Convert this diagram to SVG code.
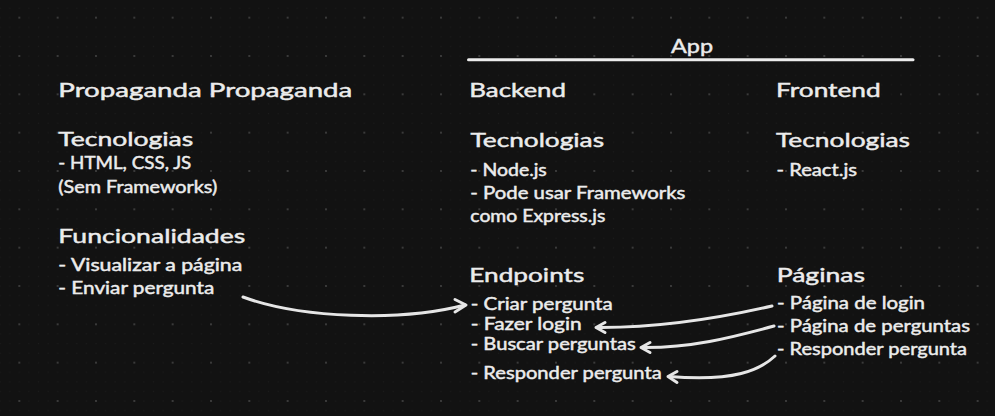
<svg xmlns="http://www.w3.org/2000/svg" width="995" height="416" viewBox="0 0 995 416">
<style>
text{font-family:Lato,"Noto Sans","Liberation Sans",sans-serif;fill:#ececec;stroke:#ececec;stroke-width:0.45px}
.h{font-size:20px}
.t{font-size:16.5px}
.c{fill:none;stroke:#e6e6e6;stroke-width:3;stroke-linecap:round;stroke-linejoin:round}
</style>
<defs>
<pattern id="grid" patternUnits="userSpaceOnUse" x="18.333" y="16.667" width="38.333" height="38.333">
<g fill="#1d1d1d">
<circle cx="10.58" cy="1" r="0.6"/><circle cx="20.17" cy="1" r="0.6"/><circle cx="29.75" cy="1" r="0.6"/>
<circle cx="1" cy="10.58" r="0.6"/><circle cx="10.58" cy="10.58" r="0.6"/><circle cx="20.17" cy="10.58" r="0.6"/><circle cx="29.75" cy="10.58" r="0.6"/>
<circle cx="1" cy="20.17" r="0.6"/><circle cx="10.58" cy="20.17" r="0.6"/><circle cx="20.17" cy="20.17" r="0.6"/><circle cx="29.75" cy="20.17" r="0.6"/>
<circle cx="1" cy="29.75" r="0.6"/><circle cx="10.58" cy="29.75" r="0.6"/><circle cx="20.17" cy="29.75" r="0.6"/><circle cx="29.75" cy="29.75" r="0.6"/>
</g>
<circle cx="1" cy="1" r="1" fill="#474747"/>
</pattern>
</defs>
<rect width="995" height="416" fill="#121212"/>
<rect width="995" height="416" fill="url(#grid)"/>

<g id="app">
<text class="h" x="671" y="52.5" textLength="42" lengthAdjust="spacingAndGlyphs">App</text>
<line x1="468.5" y1="59.7" x2="913" y2="59.7" stroke="#ececec" stroke-width="3" stroke-linecap="round"/>
</g>

<g id="propaganda">
<text class="h" x="58.3" y="97.3" textLength="294" lengthAdjust="spacingAndGlyphs">Propaganda Propaganda</text>
<text class="h" x="58.3" y="146" textLength="135" lengthAdjust="spacingAndGlyphs">Tecnologias</text>
<text class="t" x="58.3" y="169.4" textLength="133" lengthAdjust="spacingAndGlyphs">- HTML, CSS, JS</text>
<text class="t" x="58.3" y="192.6" textLength="159" lengthAdjust="spacingAndGlyphs">(Sem Frameworks)</text>
<text class="h" x="58.3" y="243.4" textLength="187" lengthAdjust="spacingAndGlyphs">Funcionalidades</text>
<text class="t" x="58.3" y="270.8" textLength="184" lengthAdjust="spacingAndGlyphs">- Visualizar a página</text>
<text class="t" x="58.3" y="294" textLength="156" lengthAdjust="spacingAndGlyphs">- Enviar pergunta</text>
</g>

<g id="backend">
<text class="h" x="469.3" y="97.3" textLength="96.7" lengthAdjust="spacingAndGlyphs">Backend</text>
<text class="h" x="470.5" y="146.5" textLength="133.5" lengthAdjust="spacingAndGlyphs">Tecnologias</text>
<text class="t" x="470.3" y="176" textLength="76.5" lengthAdjust="spacingAndGlyphs">- Node.js</text>
<text class="t" x="470.3" y="198.5" textLength="215" lengthAdjust="spacingAndGlyphs">- Pode usar Frameworks</text>
<text class="t" x="470.3" y="221.7" textLength="135" lengthAdjust="spacingAndGlyphs">como Express.js</text>
<text class="h" x="469.3" y="282.3" textLength="115" lengthAdjust="spacingAndGlyphs">Endpoints</text>
<text class="t" x="470.7" y="310" textLength="142" lengthAdjust="spacingAndGlyphs">- Criar pergunta</text>
<text class="t" x="470.7" y="330.3" textLength="111" lengthAdjust="spacingAndGlyphs">- Fazer login</text>
<text class="t" x="470.7" y="350.4" textLength="165" lengthAdjust="spacingAndGlyphs">- Buscar perguntas</text>
<text class="t" x="470.7" y="379.4" textLength="191" lengthAdjust="spacingAndGlyphs">- Responder pergunta</text>
</g>

<g id="frontend">
<text class="h" x="776" y="97.3" textLength="104.7" lengthAdjust="spacingAndGlyphs">Frontend</text>
<text class="h" x="776" y="146.5" textLength="134" lengthAdjust="spacingAndGlyphs">Tecnologias</text>
<text class="t" x="776.5" y="176" textLength="80.5" lengthAdjust="spacingAndGlyphs">- React.js</text>
<text class="h" x="776.7" y="281.7" textLength="88.3" lengthAdjust="spacingAndGlyphs">Páginas</text>
<text class="t" x="777" y="309.4" textLength="148" lengthAdjust="spacingAndGlyphs">- Página de login</text>
<text class="t" x="777" y="331.7" textLength="193" lengthAdjust="spacingAndGlyphs">- Página de perguntas</text>
<text class="t" x="777" y="355" textLength="190" lengthAdjust="spacingAndGlyphs">- Responder pergunta</text>
</g>

<g id="connectors">
<path class="c" d="M243,297 C300,318 400,322 465,305"/>
<path class="c" d="M455,299.5 L466,305 L455,312"/>
<path class="c" d="M772,306 C720,318 660,328 597,327.5"/>
<path class="c" d="M605,322.5 L596,327.5 L605,332.5"/>
<path class="c" d="M774,326 C730,338 690,348 642,347.5"/>
<path class="c" d="M650,342.5 L641,347.5 L650,352.5"/>
<path class="c" d="M775,356 C760,370 735,382 669,376.5"/>
<path class="c" d="M677,371.5 L668,376.5 L677,382.5"/>
</g>
</svg>
